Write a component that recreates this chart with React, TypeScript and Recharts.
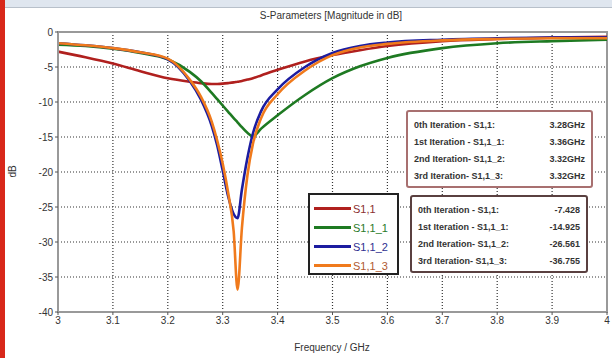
import React from 'react';
import { LineChart, Line, XAxis, YAxis, CartesianGrid, ReferenceArea } from 'recharts';

// Frequency points (GHz), denser around the resonances
const freqs = [3.0, 3.05, 3.1, 3.15, 3.2, 3.24, 3.26, 3.28, 3.29, 3.3, 3.31, 3.32, 3.327, 3.335, 3.345, 3.355, 3.37, 3.4, 3.45, 3.5, 3.55, 3.6, 3.7, 3.8, 3.9, 4.0];

// |S11| in dB for each design iteration
const s11_0 = [-2.8, -3.6, -4.5, -5.6, -6.6, -7.1, -7.3, -7.43, -7.42, -7.38, -7.3, -7.2, -7.1, -7.0, -6.8, -6.6, -6.2, -5.4, -4.2, -3.3, -2.6, -2.0, -1.3, -1.0, -0.8, -0.7];
const s11_1 = [-1.8, -2.0, -2.4, -3.0, -3.9, -5.7, -7.0, -8.7, -9.6, -10.5, -11.4, -12.3, -12.9, -13.6, -14.4, -14.9, -13.8, -11.9, -9.0, -6.6, -4.9, -3.7, -2.3, -1.6, -1.3, -1.1];
const s11_2 = [-1.6, -1.9, -2.3, -2.9, -3.9, -7.0, -9.6, -13.4, -16.2, -19.8, -23.5, -26.0, -26.6, -22.5, -18.0, -14.5, -11.3, -8.2, -5.0, -3.0, -2.0, -1.5, -1.1, -0.9, -0.8, -0.8];
const s11_3 = [-1.6, -1.9, -2.3, -2.9, -3.8, -6.8, -9.2, -12.8, -15.5, -18.8, -23.0, -28.5, -36.8, -28.0, -20.5, -16.0, -12.3, -8.9, -5.5, -3.3, -2.2, -1.7, -1.2, -1.0, -0.9, -0.9];

const xTicks = [3, 3.1, 3.2, 3.3, 3.4, 3.5, 3.6, 3.7, 3.8, 3.9, 4];
const yTicks = [0, -5, -10, -15, -20, -25, -30, -35, -40];

const seriesNames = ['S1,1', 'S1,1_1', 'S1,1_2', 'S1,1_3'];
const seriesColors = ['#b0201e', '#1e7a22', '#1c1ca0', '#f07a1c'];
const textColors = ['#8a3030', '#2a7a2a', '#303090', '#b05a30'];

const freqLines = [
  ['0th Iteration - S1,1:', '3.28GHz'],
  ['1st Iteration - S1,1_1:', '3.36GHz'],
  ['2nd Iteration- S1,1_2:', '3.32GHz'],
  ['3rd Iteration-  S1,1_3:', '3.32GHz'],
];
const magLines = [
  ['0th Iteration - S1,1:', '-7.428'],
  ['1st Iteration - S1,1_1:', '-14.925'],
  ['2nd Iteration- S1,1_2:', '-26.561'],
  ['3rd Iteration-  S1,1_3:', '-36.755'],
];

const data = freqs.map((f, i) => ({
  f,
  s0: s11_0[i],
  s1: s11_1[i],
  s2: s11_2[i],
  s3: s11_3[i],
}));

const font = '"Liberation Sans", Arial, sans-serif';

const InfoBox = ({ lines, left, top, width, border }: { lines: string[][]; left: number; top: number; width: number; border: string }) => (
  <div
    style={{
      position: 'absolute', left, top, width, height: 78, boxSizing: 'border-box',
      border: `2px solid ${border}`, borderRadius: 3, background: '#fff',
      padding: '5px 6px', fontFamily: font, fontSize: 9, fontWeight: 'bold', color: '#333',
    }}
  >
    {lines.map(([a, b]) => (
      <div key={a} style={{ display: 'flex', justifyContent: 'space-between', height: 17, lineHeight: '17px' }}>
        <span>{a}</span>
        <span>{b}</span>
      </div>
    ))}
  </div>
);

const App: React.FC = () => {
  const keys = ['s0', 's1', 's2', 's3'];
  return (
    <div style={{ position: 'absolute', left: 0, top: 0, width: 612, height: 358, background: '#fff', overflow: 'hidden' }}>
      {/* window chrome */}
      <div style={{ position: 'absolute', left: 0, top: 0, width: 612, height: 7, background: '#dfe6ef', borderBottom: '1px solid #b8c0ca' }} />
      <div style={{ position: 'absolute', left: 0, top: 0, width: 5, height: 358, background: '#d8281a' }} />

      <LineChart width={612} height={358} data={data} margin={{ top: 32, right: 5, bottom: 6, left: 28 }}>
        <CartesianGrid stroke="#333" strokeDasharray="1 2" strokeWidth={1.2} />
        <ReferenceArea x1={3} x2={4} y1={-40} y2={0} fill="none" stroke="#999" strokeWidth={2} />
        <XAxis
          dataKey="f" type="number" domain={[3, 4]} ticks={xTicks} height={40}
          tick={{ fontSize: 10, fill: '#333', fontFamily: font }}
          axisLine={{ stroke: '#999', strokeWidth: 2 }} tickLine={{ stroke: '#555' }} tickSize={3}
        />
        <YAxis
          type="number" domain={[-40, 0]} ticks={yTicks} width={30}
          tick={{ fontSize: 10, fill: '#333', fontFamily: font }}
          axisLine={{ stroke: '#999', strokeWidth: 2 }} tickLine={{ stroke: '#555' }} tickSize={3}
        />
        {keys.map((k, i) => (
          <Line key={k} type="monotone" dataKey={k} name={seriesNames[i]} stroke={seriesColors[i]} strokeWidth={2.6} dot={false} isAnimationActive={false} />
        ))}
      </LineChart>

      <div style={{ position: 'absolute', left: 0, top: 10, width: 662, textAlign: 'center', fontFamily: font, fontSize: 10, color: '#333' }}>
        S-Parameters [Magnitude in dB]
      </div>
      <div style={{ position: 'absolute', left: 0, top: 342, width: 664, textAlign: 'center', fontFamily: font, fontSize: 10, color: '#333' }}>
        Frequency / GHz
      </div>
      <div style={{ position: 'absolute', left: 6, top: 166, fontFamily: font, fontSize: 10, color: '#333', transform: 'rotate(-90deg)' }}>
        dB
      </div>

      {/* legend */}
      <div style={{ position: 'absolute', left: 308, top: 193, width: 91, height: 82, boxSizing: 'border-box', border: '2px solid #222', background: '#fff', padding: '4px 0 0 4px' }}>
        {seriesNames.map((n, i) => (
          <div key={n} style={{ display: 'flex', alignItems: 'center', height: 19 }}>
            <div style={{ width: 37, height: 3, background: seriesColors[i] }} />
            <span style={{ marginLeft: 2, fontFamily: font, fontSize: 11, color: textColors[i] }}>{n}</span>
          </div>
        ))}
      </div>

      <InfoBox lines={freqLines} left={406} top={110} width={187} border="#a87070" />
      <InfoBox lines={magLines} left={410} top={195} width={178} border="#5a4040" />
    </div>
  );
};

export default App;
